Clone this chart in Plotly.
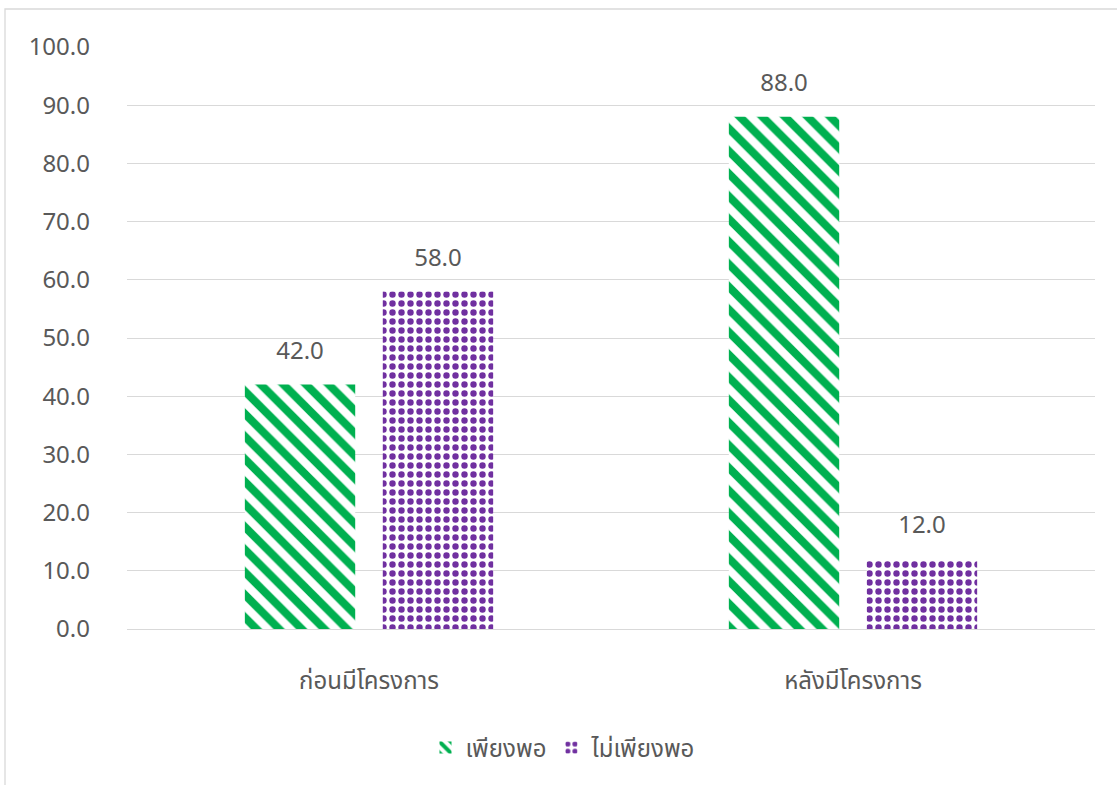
import plotly.graph_objects as go

categories = ["ก่อนมีโครงการ", "หลังมีโครงการ"]
series_names = ["เพียงพอ", "ไม่เพียงพอ"]
values_enough = [42.0, 88.0]
values_not_enough = [58.0, 12.0]
y_ticks = [0, 10, 20, 30, 40, 50, 60, 70, 80, 90, 100]

W, H = 1117, 785
L, R, T, B = 127, 22, 47, 156
FONT = "'Noto Sans', 'Noto Sans Thai', 'DejaVu Sans', sans-serif"
TXT = "#595959"
FS = 24

green = "#00B050"
purple = "#7030A0"

fig = go.Figure()
fig.add_trace(go.Bar(
    x=categories, y=values_enough, name=series_names[0], offsetgroup="a",
    marker=dict(color="white", line=dict(width=0),
                pattern=dict(shape="\\", fgcolor=green, bgcolor="white", size=16,
                             solidity=0.5, fgopacity=1)),
))
fig.add_trace(go.Bar(
    x=categories, y=values_not_enough, name=series_names[1], offsetgroup="b",
    marker=dict(color="white", line=dict(width=0),
                pattern=dict(shape=".", fgcolor=purple, bgcolor="white", size=9,
                             solidity=0.4, fgopacity=1)),
))
for vals, g in [(values_enough, "a"), (values_not_enough, "b")]:
    fig.add_trace(go.Scatter(
        x=categories, y=vals, mode="markers+text", offsetgroup=g,
        text=[f"{v:.1f}" for v in vals], textposition="top center",
        marker=dict(size=30, opacity=0), showlegend=False, hoverinfo="skip",
        textfont=dict(size=FS, color=TXT, family=FONT), cliponaxis=False,
    ))

pw = W - L - R
ph = H - T - B
def px_x(x):
    return (x - L) / pw
def px_y(y):
    return (H - B - y) / ph

fig.add_shape(type="rect", xref="paper", yref="paper",
              x0=px_x(5), x1=px_x(1125), y0=px_y(795), y1=px_y(9),
              line=dict(color="#D9D9D9", width=1.3), fillcolor="rgba(0,0,0,0)", layer="below")

fig.update_layout(
    width=W, height=H,
    margin=dict(l=L, r=R, t=T, b=B),
    barmode="group", bargap=0.43, bargroupgap=0.2,
    scattermode="group", scattergap=0.43,
    plot_bgcolor="white", paper_bgcolor="white",
    font=dict(family=FONT, size=FS, color=TXT),
    showlegend=True,
    legend=dict(orientation="h", x=px_x(563), xanchor="center", y=px_y(748), yanchor="middle",
                font=dict(size=FS, color=TXT, family=FONT), traceorder="normal",
                itemwidth=30),
    xaxis=dict(showgrid=False, showline=False, ticks="", tickfont=dict(size=FS, color=TXT),
               ticklabelstandoff=35),
    yaxis=dict(range=[0, 100], tickvals=y_ticks, tickformat=".1f", showgrid=True,
               gridcolor="#D9D9D9", gridwidth=1.3, zeroline=True, zerolinecolor="#D9D9D9",
               zerolinewidth=1.3, showline=False, ticks="", tickfont=dict(size=FS, color=TXT),
               ticklabelstandoff=36),
)

fig.write_html("out.html", config={"displayModeBar": False},
               post_script="document.body.style.margin='0';")
